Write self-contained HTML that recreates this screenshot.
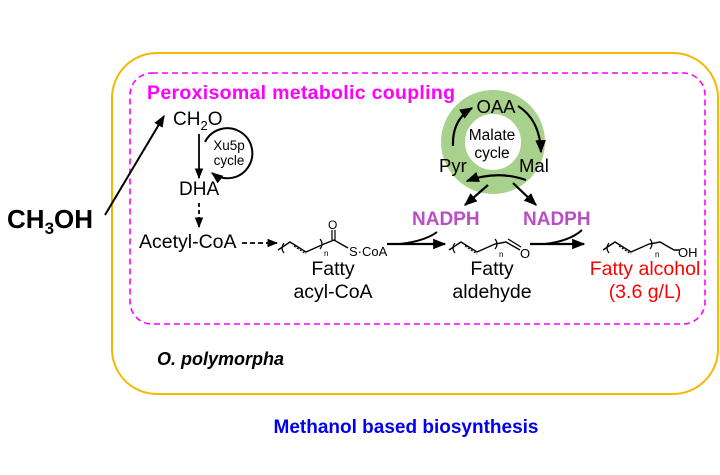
<!DOCTYPE html>
<html><head><style>
html,body{margin:0;padding:0;background:#fff;}
svg{display:block;}
text{font-family:"Liberation Sans",Arial,sans-serif;}
</style></head><body>
<svg width="720" height="475" viewBox="0 0 720 475" xmlns="http://www.w3.org/2000/svg">
<defs>
<marker id="ah" viewBox="0 0 10 10" refX="9" refY="5" markerWidth="6" markerHeight="6" orient="auto-start-reverse"><path d="M0,1 L10,5 L0,9 z" fill="#000"/></marker>
</defs>
<rect x="112" y="53" width="606" height="341" rx="45" fill="none" stroke="#f5b800" stroke-width="2"/>
<rect x="130" y="73" width="575" height="251" rx="22" fill="none" stroke="#ff00ff" stroke-width="1.6" stroke-dasharray="6,4"/>
<text x="147" y="99" font-size="19.5" font-weight="bold" fill="#ff00ff" textLength="308">Peroxisomal metabolic coupling</text>
<text x="7" y="228" font-size="26" font-weight="bold">CH<tspan font-size="17" dy="6">3</tspan><tspan dy="-6">OH</tspan></text>
<line x1="105" y1="215" x2="164" y2="116" stroke="#000" stroke-width="2" marker-end="url(#ah)"/>
<text x="173" y="125" font-size="19">CH<tspan font-size="13" dy="5">2</tspan><tspan dy="-5">O</tspan></text>
<line x1="199" y1="134" x2="199" y2="178" stroke="#000" stroke-width="1.8" marker-end="url(#ah)"/>
<path d="M205,142 A25,25 0 1 1 212,173" fill="none" stroke="#000" stroke-width="2" marker-end="url(#ah)"/>
<text x="229" y="150" font-size="13.5" text-anchor="middle">Xu5p</text>
<text x="229" y="165" font-size="13.5" text-anchor="middle">cycle</text>
<text x="179" y="195" font-size="19">DHA</text>
<line x1="199" y1="203" x2="199" y2="227" stroke="#000" stroke-width="1.8" stroke-dasharray="4,3" marker-end="url(#ah)"/>
<text x="139" y="248" font-size="19.5">Acetyl-CoA</text>
<line x1="242" y1="243" x2="277" y2="243" stroke="#000" stroke-width="1.8" stroke-dasharray="5,3" marker-end="url(#ah)"/>
<path d="M278,250 L290,242 L306,252 L324,244 L334,240 L348,248" fill="none" stroke="#000" stroke-width="1.4"/>
<path d="M294,246 L306,254" stroke="#000" stroke-dasharray="2,1.5" stroke-width="1.2"/>
<path d="M284,243 Q280,248 284,253 M320,239 Q324,244 320,249" fill="none" stroke="#000" stroke-width="1.2"/>
<text x="324" y="256" font-size="8">n</text>
<path d="M332,240 L332,230 M335,240 L335,230" stroke="#000" stroke-width="1.2"/>
<text x="328" y="229" font-size="12">O</text>
<text x="349" y="256" font-size="13">S·CoA</text>
<text x="333" y="275" font-size="19.5" text-anchor="middle">Fatty</text>
<text x="333" y="298" font-size="19.5" text-anchor="middle">acyl-CoA</text>
<line x1="387" y1="244" x2="445" y2="244" stroke="#000" stroke-width="2.2" marker-end="url(#ah)"/>
<path d="M437,232 Q425,241 400,244" fill="none" stroke="#000" stroke-width="2"/>
<text x="412" y="225" font-size="19" font-weight="bold" fill="#b84fc3">NADPH</text>
<path d="M449,250 L461,242 L477,252 L495,244 L506,242 L520,250" fill="none" stroke="#000" stroke-width="1.4"/>
<path d="M465,246 L477,254" stroke="#000" stroke-dasharray="2,1.5" stroke-width="1.2"/>
<path d="M455,243 Q451,248 455,253 M495,239 Q499,244 495,249" fill="none" stroke="#000" stroke-width="1.2"/>
<path d="M508,239 L521,247" stroke="#000" stroke-width="1.2"/>
<text x="499" y="257" font-size="8">n</text>
<text x="520" y="258" font-size="13">O</text>
<text x="492" y="275" font-size="19.5" text-anchor="middle">Fatty</text>
<text x="492" y="298" font-size="19.5" text-anchor="middle">aldehyde</text>
<line x1="530" y1="244" x2="584" y2="244" stroke="#000" stroke-width="2.2" marker-end="url(#ah)"/>
<path d="M582,230 Q570,241 545,244" fill="none" stroke="#000" stroke-width="2"/>
<text x="523" y="225" font-size="19" font-weight="bold" fill="#b84fc3">NADPH</text>
<path d="M603,250 L615,242 L631,252 L649,244 L660,242 L674,250 L680,250" fill="none" stroke="#000" stroke-width="1.4"/>
<path d="M619,246 L631,254" stroke="#000" stroke-dasharray="2,1.5" stroke-width="1.2"/>
<path d="M609,243 Q605,248 609,253 M650,239 Q654,244 650,249" fill="none" stroke="#000" stroke-width="1.2"/>
<text x="655" y="257" font-size="8">n</text>
<text x="678" y="257" font-size="13">OH</text>
<text x="645" y="275" font-size="19.5" text-anchor="middle" fill="#ff0000">Fatty alcohol</text>
<text x="645" y="298" font-size="19.5" text-anchor="middle" fill="#ff0000">(3.6 g/L)</text>
<circle cx="493" cy="142" r="40" fill="none" stroke="#a9d18e" stroke-width="24"/>
<path d="M453,146 Q452,120 472,108" fill="none" stroke="#000" stroke-width="2.2" marker-end="url(#ah)"/>
<path d="M518,106 Q540,120 541,152" fill="none" stroke="#000" stroke-width="2.2" marker-end="url(#ah)"/>
<text x="496" y="113" font-size="18.5" text-anchor="middle">OAA</text>
<text x="492" y="140" font-size="15.5" text-anchor="middle">Malate</text>
<text x="492" y="158" font-size="15.5" text-anchor="middle">cycle</text>
<text x="439" y="172" font-size="18.5">Pyr</text>
<text x="519" y="172" font-size="18.5">Mal</text>
<path d="M526,180 Q497,170 467,181" fill="none" stroke="#000" stroke-width="2.2" marker-end="url(#ah)"/>
<line x1="488" y1="185" x2="465" y2="205" stroke="#000" stroke-width="2.2" marker-end="url(#ah)"/>
<line x1="513" y1="183" x2="536" y2="205" stroke="#000" stroke-width="2.2" marker-end="url(#ah)"/>
<text x="157" y="365" font-size="18" font-weight="bold" font-style="italic">O. polymorpha</text>
<text x="406" y="433" font-size="19" font-weight="bold" fill="#0000ee" text-anchor="middle">Methanol based biosynthesis</text>
</svg>
</body></html>
